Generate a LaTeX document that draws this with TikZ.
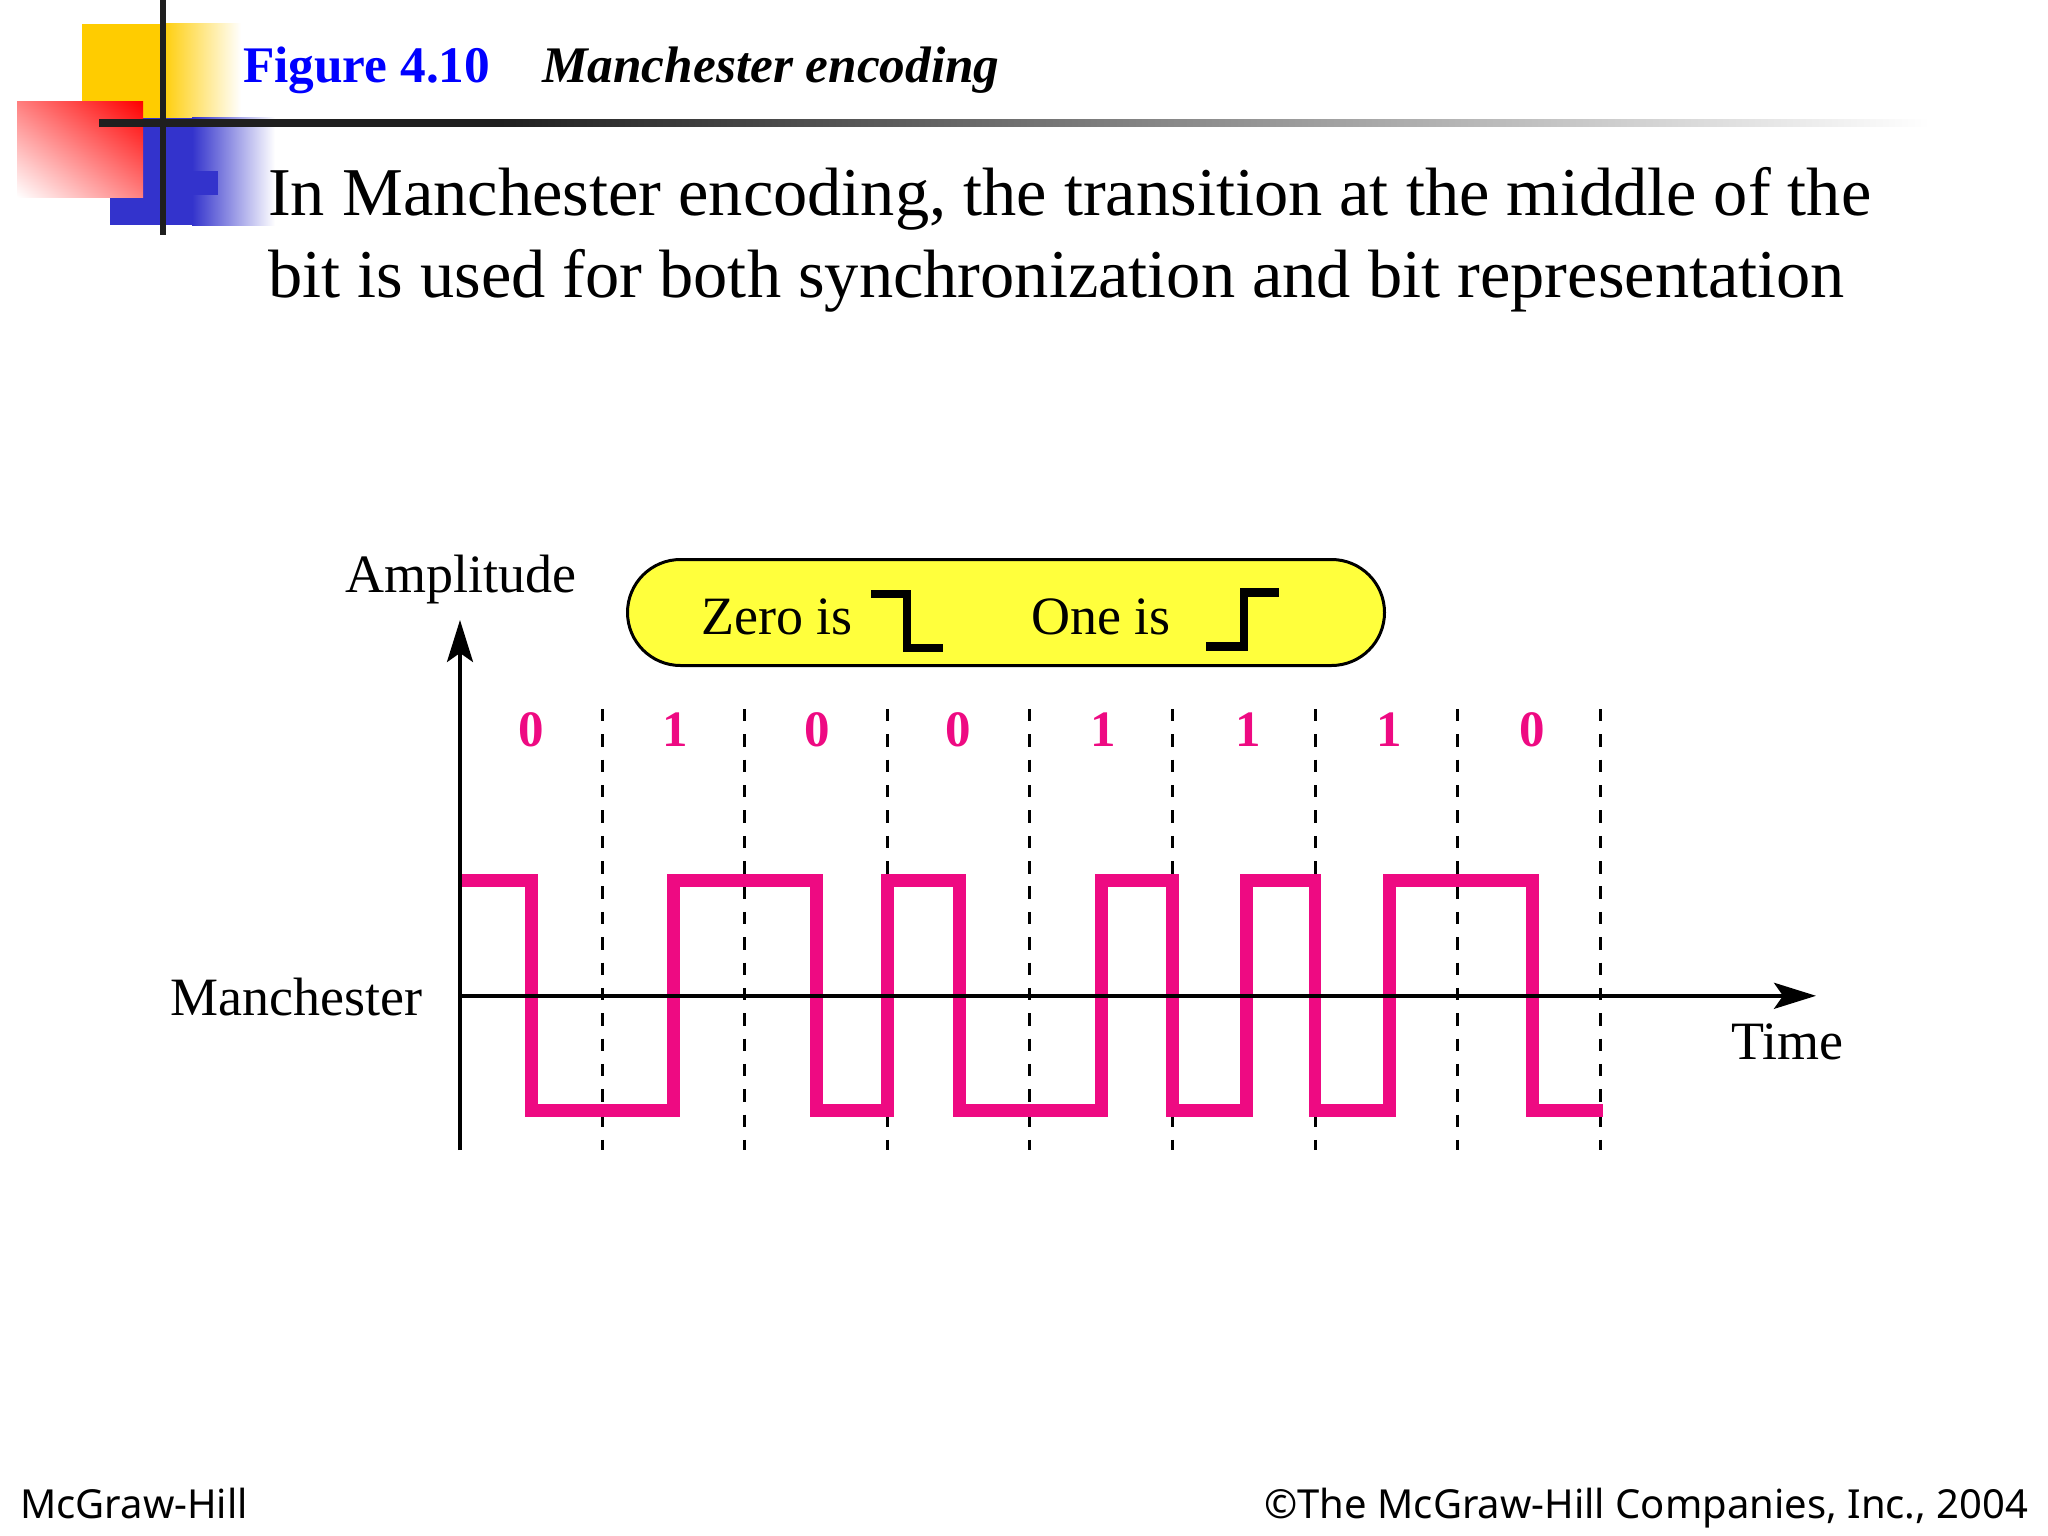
\documentclass[tikz,border=0pt]{standalone}
\usepackage{fontspec}
\setmainfont{Liberation Serif}
\newfontfamily\footfont{Noto Sans}
\usepackage{xcolor}
\usetikzlibrary{positioning, arrows.meta, shadings}

\definecolor{WavePink}{HTML}{EE0A82}
\definecolor{PillYellow}{HTML}{FFFF3C}
\definecolor{DecoGold}{HTML}{FFCC00}
\definecolor{DecoBlue}{HTML}{3333CC}
\definecolor{BarBlack}{HTML}{1F1F1F}

\begin{document}
\begin{tikzpicture}[
      x=1pt, y=-1pt,
      label/.style={inner sep=0pt, anchor=base west, font=\fontsize{54}{60}\selectfont},
      bit/.style={inner sep=0pt, text=WavePink, font=\fontsize{51}{55}\selectfont\bfseries},
      headline/.style={inner sep=0pt, anchor=base west, font=\fontsize{51.3}{58}\selectfont\bfseries},
      bullet/.style={inner sep=0pt, anchor=base west, font=\fontsize{68.4}{76}\selectfont},
      foot/.style={inner sep=0pt, anchor=base west, font=\fontsize{40}{46}\selectfont\footfont},
      pill/.style={draw, line width=3pt, fill=PillYellow, rounded corners=53pt, minimum width=757pt, minimum height=106pt},
      axis/.style={line width=3.8pt, -{Stealth[length=42pt, width=26pt, inset=9pt]}},
      grid/.style={line width=3pt, dash pattern=on 12.4pt off 12.95pt},
      wave/.style={WavePink, line width=12.6pt, miter limit=10},
      level/.style={line width=8.5pt},
      bar/.style={fill=BarBlack}
    ]
    \useasboundingbox (0,0) rectangle (2048,1536);

    % corner decoration
    \fill[DecoGold] (82,24) rectangle (160,118);
    \shade[left color=DecoGold, right color=white] (160,24) rectangle (241,118);
    \fill[DecoBlue] (110,118) rectangle (192,225);
    \shade[left color=DecoBlue, right color=white] (192,118) rectangle (275,225);
    \fill[DecoBlue] (192,171) rectangle (218,195);
    \shade[upper right=red, upper left=red!50, lower right=red!50, lower left=white] (17,102) rectangle (143,197);
    \fill[bar] (159.5,0) rectangle (166,235);
    \fill[bar] (99,119.5) rectangle (500,127);
    \shade[left color=BarBlack, right color=white] (500,119.5) rectangle (1930,127);

    % slide text
    \node[headline, text=blue] (fig) at (243,82.5) {Figure 4.10};
    \node[headline] (title) at (542,82.5) {\itshape Manchester encoding};
    \node[bullet] (line1) at (268,215.5) {In Manchester encoding, the transition at the middle of the};
    \node[bullet] (line2) at (268,297.5) {bit is used for both synchronization and bit representation};
    \node[foot] (publisher) at (20,1518) {McGraw-Hill};
    \node[foot, anchor=base east] (copyright) at (2028.5,1518) {©The McGraw-Hill Companies, Inc., 2004};

    % legend
    \node[pill] (legend) at (1006,612.5) {};
    \node[label] (zero) at (701,634) {Zero is};
    \node[label] (one) at (1031,634) {One is};
    \coordinate (za) at (871,594);
    \coordinate (zb) at (907,648);
    \coordinate (zc) at (943,648);
    \coordinate (oa) at (1206,646.5);
    \coordinate (ob) at (1244,592.5);
    \coordinate (oc) at (1279,592.5);
    \draw[level] (za) -| (zb) -- (zc);
    \draw[level] (oa) -| (ob) -- (oc);

    % axis labels
    \node[label] (amp) at (345.5,592) {Amplitude};
    \node[label] (man) at (170,1015) {Manchester};
    \node[label] (time) at (1731,1059) {Time};

    % bits
    \node[bit] (b1) at (531,729.5) {0};
    \node[bit] (b2) [right=118pt of b1] {1};
    \node[bit] (b3) [right=116pt of b2] {0};
    \node[bit] (b4) [right=116pt of b3] {0};
    \node[bit] (b5) [right=119pt of b4] {1};
    \node[bit] (b6) [right=118.5pt of b5] {1};
    \node[bit] (b7) [right=115.5pt of b6] {1};
    \node[bit] (b8) [right=117pt of b7] {0};

    % bit boundaries
    \coordinate (low) at (460,1150);
    \coordinate (d1) at (602.4,709);
    \coordinate (d2) at (744.8,709);
    \coordinate (d3) at (887.2,709);
    \coordinate (d4) at (1029.8,709);
    \coordinate (d5) at (1172.3,709);
    \coordinate (d6) at (1315,709);
    \coordinate (d7) at (1457.4,709);
    \coordinate (d8) at (1600.3,709);
    \draw[grid] (d1) -- (d1 |- low);
    \draw[grid] (d2) -- (d2 |- low);
    \draw[grid] (d3) -- (d3 |- low);
    \draw[grid] (d4) -- (d4 |- low);
    \draw[grid] (d5) -- (d5 |- low);
    \draw[grid] (d6) -- (d6 |- low);
    \draw[grid] (d7) -- (d7 |- low);
    \draw[grid] (d8) -- (d8 |- low);

    % signal
    \coordinate (hi) at (461,880.5);
    \coordinate (lo) at (461,1110.5);
    \coordinate (end) at (1602.5,1110.5);
    \draw[wave] (hi) -| (531.7,0 |- lo) -| (673.7,0 |- hi) -| (816.7,0 |- lo) -| (887.3,0 |- hi)
      -| (959.3,0 |- lo) -| (1101.7,0 |- hi) -| (1172.7,0 |- lo) -| (1246.7,0 |- hi)
      -| (1315,0 |- lo) -| (1389.7,0 |- hi) -| (1532.3,0 |- lo) -- (end);

    % axes
    \coordinate (origin) at (460,995.8);
    \coordinate (ytop) at (460,620);
    \coordinate (xend) at (1816,995.8);
    \draw[axis] (low) -- (ytop);
    \draw[axis] (origin) -- (xend);
  \end{tikzpicture}
\end{document}
